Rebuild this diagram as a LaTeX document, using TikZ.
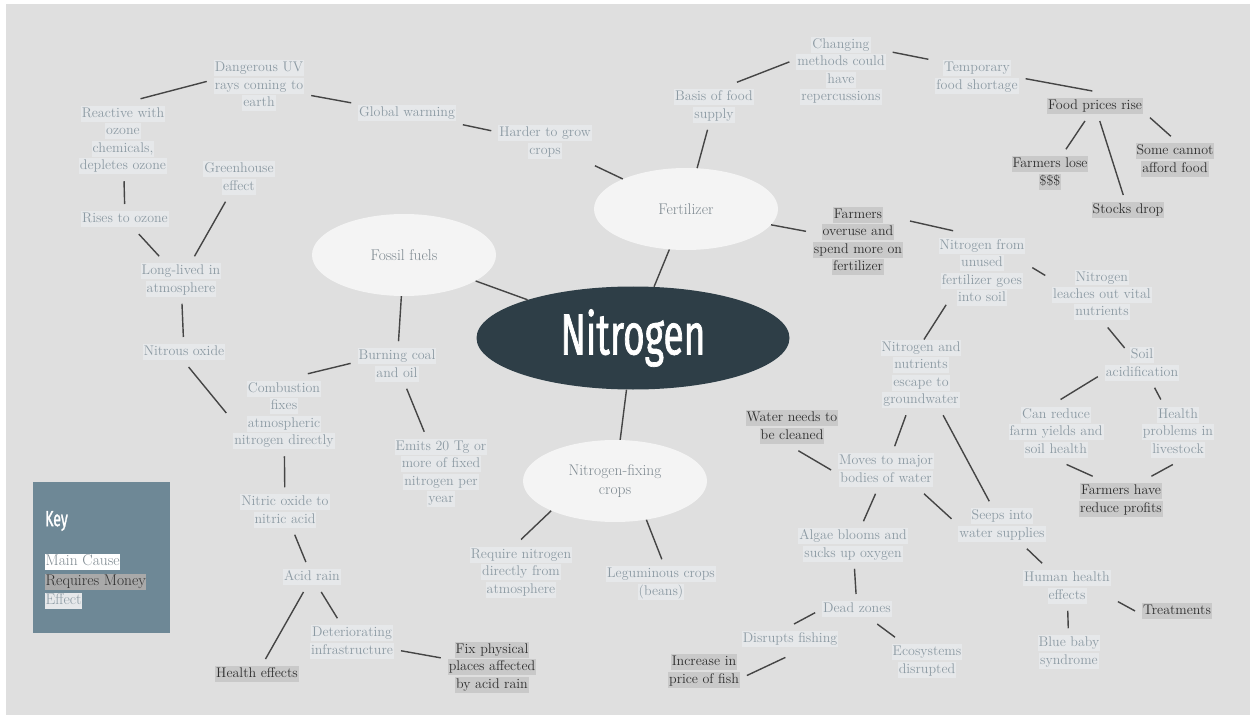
\documentclass[tikz,border=0pt]{standalone}
\usepackage{fontspec}
\newfontfamily\headfont[FakeStretch=0.64,FakeBold=1.2]{Fira Sans}
\usetikzlibrary{shapes.geometric}

\definecolor{bgcol}{HTML}{DFDFDF}
\definecolor{causefill}{HTML}{F4F4F4}
\definecolor{causetext}{HTML}{7E8990}
\definecolor{effecttext}{HTML}{8C9AA3}
\definecolor{effectbg}{HTML}{E6E8EA}
\definecolor{moneytext}{HTML}{2E2E2E}
\definecolor{moneybg}{HTML}{C9C9C9}
\definecolor{keyfill}{HTML}{6E8896}
\definecolor{keymoney}{HTML}{A9A9A9}
\definecolor{nitrofill}{HTML}{2E3E47}
\definecolor{linecol}{HTML}{454545}

\newcommand\hlmoney[1]{{\setlength\fboxsep{1pt}\colorbox{moneybg}{\rule[-3.5pt]{0pt}{14pt}#1}}}
\newcommand\hleffect[1]{{\setlength\fboxsep{1pt}\colorbox{effectbg}{\rule[-3.5pt]{0pt}{14pt}#1}}}

\tikzset{
  txt/.style={font=\fontsize{14}{17.5}\selectfont},
  cause/.style={ellipse, fill=causefill, text=causetext, align=center,
    font=\fontsize{15.5}{18.5}\selectfont,
    minimum width=184pt, minimum height=82pt, inner sep=0pt},
  effect/.style={txt, align=center, text=effecttext, inner sep=0pt, outer sep=7pt},
  money/.style={txt, align=center, text=moneytext, inner sep=0pt, outer sep=7pt},
  link/.style={draw=linecol, line width=1.4pt},
}

\begin{document}
\begin{tikzpicture}[x=1pt, y=-1pt]
  \useasboundingbox (0,0) rectangle (1255,719);
  \fill[white] (0,0) rectangle (1255,719);
  \fill[bgcol] (6,4) rectangle (1250,715);

  % main causes
  \node[ellipse, fill=nitrofill, minimum width=313pt, minimum height=103pt, inner sep=0pt]
    (nitro) at (633,338) {\color{white}\headfont\fontsize{58}{58}\selectfont Nitrogen};
  \node[cause] (fossil) at (404,255) {Fossil fuels};
  \node[cause] (fert) at (686,209) {Fertilizer};
  \node[cause] (nfix) at (615,481) {Nitrogen-fixing\\crops};

  % fossil fuels side
  \node[effect] (duv) at (259,86) {\hleffect{Dangerous UV}\\\hleffect{rays coming to}\\\hleffect{earth}};
  \node[effect] (rwo) at (123,140) {\hleffect{Reactive with}\\\hleffect{ozone}\\\hleffect{chemicals,}\\\hleffect{depletes ozone}};
  \node[effect] (ghe) at (239,178) {\hleffect{Greenhouse}\\\hleffect{effect}};
  \node[effect] (rto) at (125,219) {\hleffect{Rises to ozone}};
  \node[effect] (lli) at (181,280) {\hleffect{Long-lived in}\\\hleffect{atmosphere}};
  \node[effect] (nox) at (184,352) {\hleffect{Nitrous oxide}};
  \node[effect] (cfa) at (284,415) {\hleffect{Combustion}\\\hleffect{fixes}\\\hleffect{atmospheric}\\\hleffect{nitrogen directly}};
  \node[effect] (bco) at (397,365) {\hleffect{Burning coal}\\\hleffect{and oil}};
  \node[effect] (emt) at (441,473) {\hleffect{Emits 20 Tg or}\\\hleffect{more of fixed}\\\hleffect{nitrogen per}\\\hleffect{year}};
  \node[effect] (noa) at (285,511) {\hleffect{Nitric oxide to}\\\hleffect{nitric acid}};
  \node[effect] (acr) at (312,577) {\hleffect{Acid rain}};
  \node[effect] (det) at (352,642) {\hleffect{Deteriorating}\\\hleffect{infrastructure}};
  \node[money] (hef) at (257,674) {\hlmoney{Health effects}};
  \node[money] (fix) at (492,667) {\hlmoney{Fix physical}\\\hlmoney{places affected}\\\hlmoney{by acid rain}};
  \node[effect] (glw) at (407,113) {\hleffect{Global warming}};

  % fertilizer side
  \node[effect] (hgc) at (545,142) {\hleffect{Harder to grow}\\\hleffect{crops}};
  \node[effect] (bfs) at (714,106) {\hleffect{Basis of food}\\\hleffect{supply}};
  \node[effect] (chm) at (841,71) {\hleffect{Changing}\\\hleffect{methods could}\\\hleffect{have}\\\hleffect{repercussions}};
  \node[effect] (tfs) at (977,77) {\hleffect{Temporary}\\\hleffect{food shortage}};
  \node[money] (fpr) at (1095,106) {\hlmoney{Food prices rise}};
  \node[money] (fls) at (1050,173) {\hlmoney{Farmers lose}\\\hlmoney{\$\$\$}};
  \node[money] (sca) at (1175,160) {\hlmoney{Some cannot}\\\hlmoney{afford food}};
  \node[money] (sdr) at (1128,210) {\hlmoney{Stocks drop}};
  \node[money] (fos) at (858,241) {\hlmoney{Farmers}\\\hlmoney{overuse and}\\\hlmoney{spend more on}\\\hlmoney{fertilizer}};
  \node[effect] (nfu) at (982,272) {\hleffect{Nitrogen from}\\\hleffect{unused}\\\hleffect{fertilizer goes}\\\hleffect{into soil}};
  \node[effect] (nlv) at (1102,295) {\hleffect{Nitrogen}\\\hleffect{leaches out vital}\\\hleffect{nutrients}};
  \node[effect] (sac) at (1142,364) {\hleffect{Soil}\\\hleffect{acidification}};
  \node[effect] (nng) at (921,374) {\hleffect{Nitrogen and}\\\hleffect{nutrients}\\\hleffect{escape to}\\\hleffect{groundwater}};
  \node[effect] (crf) at (1056,432) {\hleffect{Can reduce}\\\hleffect{farm yields and}\\\hleffect{soil health}};
  \node[effect] (hpl) at (1178,432) {\hleffect{Health}\\\hleffect{problems in}\\\hleffect{livestock}};
  \node[money] (frp) at (1121,500) {\hlmoney{Farmers have}\\\hlmoney{reduce profits}};
  \node[money] (wnc) at (792,427) {\hlmoney{Water needs to}\\\hlmoney{be cleaned}};
  \node[effect] (mbw) at (886,470) {\hleffect{Moves to major}\\\hleffect{bodies of water}};
  \node[effect] (abs) at (853,545) {\hleffect{Algae blooms and}\\\hleffect{sucks up oxygen}};
  \node[effect] (sws) at (1002,525) {\hleffect{Seeps into}\\\hleffect{water supplies}};
  \node[effect] (hhe) at (1067,587) {\hleffect{Human health}\\\hleffect{effects}};
  \node[money] (trt) at (1177,611) {\hlmoney{Treatments}};
  \node[effect] (bbs) at (1069,652) {\hleffect{Blue baby}\\\hleffect{syndrome}};
  \node[effect] (dzn) at (857,609) {\hleffect{Dead zones}};
  \node[effect] (eds) at (927,661) {\hleffect{Ecosystems}\\\hleffect{disrupted}};
  \node[effect] (dfs) at (790,639) {\hleffect{Disrupts fishing}};
  \node[money] (ipf) at (704,671) {\hlmoney{Increase in}\\\hlmoney{price of fish}};

  % nitrogen-fixing crops side
  \node[effect] (rnd) at (521,572) {\hleffect{Require nitrogen}\\\hleffect{directly from}\\\hleffect{atmosphere}};
  \node[effect] (lcb) at (661,583) {\hleffect{Leguminous crops}\\\hleffect{(beans)}};

  % connectors
  \draw[link] (rwo.67) -- (duv.175);
  \draw[link] (duv) -- (glw);
  \draw[link] (rwo) -- (rto);
  \draw[link] (rto) -- (lli);
  \draw[link] (ghe) -- (lli);
  \draw[link] (lli) -- (nox);
  \draw[link] (nox.-73) -- (cfa.178);
  \draw[link] (cfa.60) -- (bco.178);
  \draw[link] (fossil) -- (bco);
  \draw[link] (bco) -- (emt);
  \draw[link] (cfa) -- (noa);
  \draw[link] (noa) -- (acr);
  \draw[link] (acr) -- (hef);
  \draw[link] (acr) -- (det);
  \draw[link] (det) -- (fix);
  \draw[link] (fossil) -- (nitro);
  \draw[link] (glw) -- (hgc);
  \draw[link] (hgc) -- (fert);
  \draw[link] (fert) -- (bfs);
  \draw[link] (bfs.46) -- (chm.170);
  \draw[link] (chm.20) -- (tfs.160);
  \draw[link] (tfs.-2) -- (fpr.100);
  \draw[link] (fpr) -- (fls);
  \draw[link] (fpr) -- (sdr);
  \draw[link] (fpr.-12) -- (sca.100);
  \draw[link] (fert) -- (fos);
  \draw[link] (fos.21) -- (nfu.125);
  \draw[link] (fert) -- (nitro);
  \draw[link] (nitro) -- (nfix);
  \draw[link] (nfix.205) -- (rnd.90);
  \draw[link] (nfix.-51) -- (lcb.88);
  \draw[link] (nfu.5) -- (nlv.161);
  \draw[link, shorten <=-10pt, shorten >=-8pt] (nfu.-135) -- (nng.80);
  \draw[link, shorten >=-10pt] (nlv.-80) -- (sac.135);
  \draw[link] (sac.196) -- (crf.82);
  \draw[link] (sac) -- (hpl);
  \draw[link] (crf.-72) -- (frp.140);
  \draw[link] (hpl.-99) -- (frp.38);
  \draw[link] (nng) -- (mbw);
  \draw[link] (nng) -- (sws);
  \draw[link] (wnc.-75) -- (mbw.180);
  \draw[link] (mbw) -- (abs);
  \draw[link] (mbw.-32) -- (sws.173);
  \draw[link] (sws) -- (hhe);
  \draw[link] (hhe.-16) -- (trt.180);
  \draw[link] (hhe) -- (bbs);
  \draw[link] (abs) -- (dzn);
  \draw[link] (dzn) -- (eds);
  \draw[link] (dzn.185) -- (dfs.75);
  \draw[link, shorten <=8pt] (dfs.-80) -- (ipf.-6);

  % key
  \fill[keyfill] (33,482) rectangle (170,633);
  \node[anchor=west, text=white, inner sep=0pt] (keyhd) at (45,521)
    {\headfont\fontsize{22}{22}\selectfont Key};
  \node[anchor=west, inner sep=0pt, font=\fontsize{15.5}{19}\selectfont] (keymc) at (45,562)
    {{\setlength\fboxsep{0.5pt}\colorbox{white}{\color{causetext}\rule[-4pt]{0pt}{15pt}Main Cause}}};
  \node[anchor=west, inner sep=0pt, font=\fontsize{15.5}{19}\selectfont] (keyrm) at (45,582)
    {{\setlength\fboxsep{0.5pt}\colorbox{keymoney}{\color{moneytext}\rule[-4pt]{0pt}{15pt}Requires Money}}};
  \node[anchor=west, inner sep=0pt, font=\fontsize{15.5}{19}\selectfont] (keyef) at (45,601)
    {{\setlength\fboxsep{0.5pt}\colorbox{effectbg}{\color{effecttext}\rule[-4pt]{0pt}{15pt}Effect}}};
\end{tikzpicture}
\end{document}
